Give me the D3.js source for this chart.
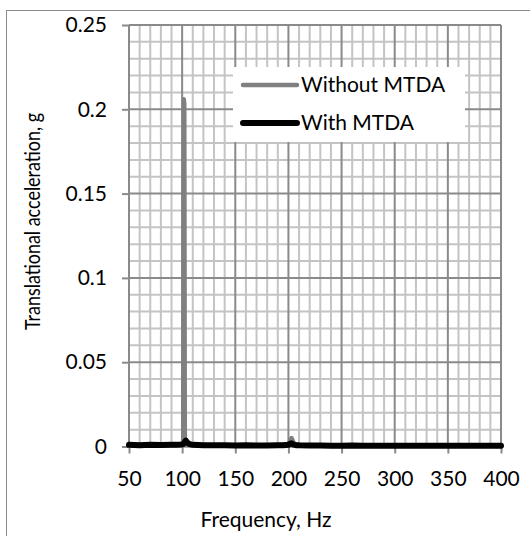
<!DOCTYPE html>
<html><head><meta charset="utf-8">
<script src="https://cdn.jsdelivr.net/npm/d3@7"></script>
<style>body{margin:0;background:#fff}svg{display:block}text{font-family:Lato,"Open Sans",sans-serif;fill:#000}</style>
</head><body><svg id="c" width="530" height="536"></svg>
<script>
const frequency = [50,60,70,80,90,95,99,100,101,101.5,102,102.5,103,103.5,104,105,107,110,120,130,140,150,160,170,180,190,195,200,201,202,203,204,205,207,210,220,230,240,250,260,270,280,290,300,310,320,330,340,350,360,370,380,390,400];
const withoutMTDA = [0.0008,0.0010,0.0009,0.0011,0.0010,0.0012,0.0014,0.0018,0.0025,0.206,0.203,0.0030,0.0022,0.0018,0.0016,0.0014,0.0012,0.0010,0.0008,0.0007,0.0008,0.0007,0.0006,0.0007,0.0008,0.0009,0.0010,0.0015,0.0025,0.0040,0.0050,0.0035,0.0020,0.0012,0.0009,0.0007,0.0006,0.0007,0.0006,0.0006,0.0005,0.0006,0.0005,0.0006,0.0005,0.0005,0.0006,0.0005,0.0005,0.0006,0.0005,0.0005,0.0005,0.0005];
const withMTDA = [0.0010,0.0008,0.0010,0.0009,0.0010,0.0011,0.0012,0.0013,0.0015,0.0017,0.0020,0.0026,0.0032,0.0035,0.0030,0.0022,0.0014,0.0010,0.0008,0.0007,0.0007,0.0006,0.0007,0.0006,0.0006,0.0007,0.0008,0.0010,0.0013,0.0017,0.0019,0.0015,0.0011,0.0008,0.0007,0.0006,0.0006,0.0005,0.0005,0.0006,0.0005,0.0005,0.0005,0.0005,0.0004,0.0005,0.0005,0.0004,0.0005,0.0005,0.0004,0.0005,0.0005,0.0005];
const xTicks = [50,100,150,200,250,300,350,400];
const yTicks = [0,0.05,0.1,0.15,0.2,0.25];
const seriesNames = ["Without MTDA","With MTDA"];

const svg = d3.select("#c");
const L=129,R=501,T=25,B=446.5;
const x = d3.scaleLinear().domain([50,400]).range([L,R]);
const y = d3.scaleLinear().domain([0,0.25]).range([B,T]);

// outer border
svg.append("rect").attr("x",6.5).attr("y",10.5).attr("width",540).attr("height",540)
  .attr("fill","none").attr("stroke","#8c8c8c").attr("stroke-width",1);

// grid
const g = svg.append("g");
const minorX = d3.range(50,401,10).filter(v=>v%50!==0);
const minorY = d3.range(0,26,1).map(v=>v/100).filter((v,i)=>i%5!==0);
g.selectAll(".mx").data(minorX).join("line").attr("x1",d=>x(d)).attr("x2",d=>x(d)).attr("y1",T).attr("y2",B)
  .attr("stroke","#c4c4c4").attr("stroke-width",2);
g.selectAll(".my").data(minorY).join("line").attr("y1",d=>y(d)).attr("y2",d=>y(d)).attr("x1",L).attr("x2",R)
  .attr("stroke","#c4c4c4").attr("stroke-width",2);
g.selectAll(".Mx").data(xTicks).join("line").attr("x1",d=>x(d)).attr("x2",d=>x(d)).attr("y1",T).attr("y2",B)
  .attr("stroke","#8a8a8a").attr("stroke-width",2);
g.selectAll(".My").data(yTicks).join("line").attr("y1",d=>y(d)).attr("y2",d=>y(d)).attr("x1",L).attr("x2",R)
  .attr("stroke","#8a8a8a").attr("stroke-width",2);

// axes
const xAxis = d3.axisBottom(x).tickValues(xTicks).tickSize(7).tickPadding(18).tickFormat(d3.format("d"));
const yAxis = d3.axisLeft(y).tickValues(yTicks).tickSize(7).tickPadding(15).tickFormat(d=>d===0?"0":String(d));
const ax = svg.append("g").attr("transform",`translate(0,${B})`).call(xAxis);
const ay = svg.append("g").attr("transform",`translate(${L},0)`).call(yAxis);
[ax,ay].forEach(a=>{
  a.select(".domain").attr("stroke","#8a8a8a").attr("stroke-width",2);
  a.selectAll(".tick line").attr("stroke","#8a8a8a").attr("stroke-width",2);
  a.selectAll(".tick text").attr("font-family","Lato").attr("font-size",21).attr("fill","#000");
});
ax.select(".domain").attr("d",`M${L},0H${R}`);
ay.select(".domain").attr("d",`M0,${T}V${B}`);

// lines
const line = vals => d3.line().x((d,i)=>x(frequency[i])).y(d=>y(d))(vals);
svg.append("path").attr("d",line(withoutMTDA)).attr("fill","none").attr("stroke","#808080")
  .attr("stroke-width",4.5).attr("stroke-linejoin","round").attr("stroke-linecap","round");
svg.append("path").attr("d",line(withMTDA)).attr("fill","none").attr("stroke","#000")
  .attr("stroke-width",6).attr("stroke-linejoin","round").attr("stroke-linecap","round");

// legend
const lg = svg.append("g");
lg.append("rect").attr("x",233).attr("y",67).attr("width",232).attr("height",75).attr("fill","#fff");
const lcol=["#808080","#000"], lw=[4.5,6], ly=[85,123];
seriesNames.forEach((n,i)=>{
  lg.append("line").attr("x1",243).attr("x2",297).attr("y1",ly[i]).attr("y2",ly[i])
    .attr("stroke",lcol[i]).attr("stroke-width",lw[i]).attr("stroke-linecap","round");
  lg.append("text").attr("x",301).attr("y",ly[i]+7).attr("font-size",21).text(n);
});

// titles
svg.append("text").attr("x",266).attr("y",527).attr("text-anchor","middle").attr("font-size",21).text("Frequency, Hz");
svg.append("text").attr("transform","translate(40,221.5) rotate(-90)").attr("text-anchor","middle")
  .attr("font-size",21).attr("textLength",217).attr("lengthAdjust","spacingAndGlyphs").text("Translational acceleration, g");
</script></body></html>
